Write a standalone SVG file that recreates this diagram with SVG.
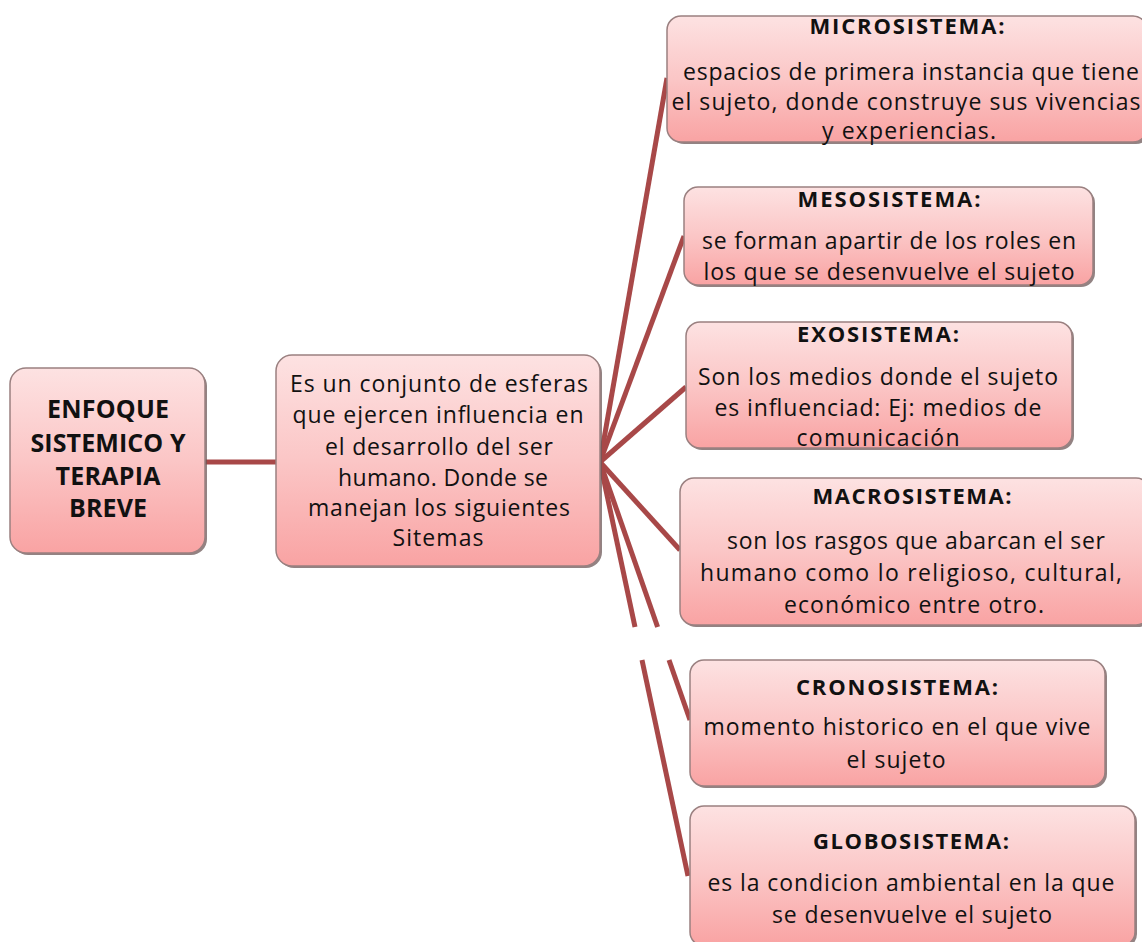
<svg xmlns="http://www.w3.org/2000/svg" width="1142" height="942" viewBox="0 0 1142 942">
<defs>
<linearGradient id="g" x1="0" y1="0" x2="0" y2="1">
<stop offset="0" stop-color="#fde2e2"/>
<stop offset="0.5" stop-color="#fbc6c6"/>
<stop offset="1" stop-color="#f9a3a3"/>
</linearGradient>
<style>
.box{fill:url(#g);stroke:#9a8080;stroke-width:1.5}
.sh{fill:#6e5a5a;opacity:0.75}
.t{font-family:"Open Sans","Liberation Sans",sans-serif;font-size:23px;fill:#111;text-anchor:middle}
.b{font-family:"Open Sans","Liberation Sans",sans-serif;font-size:22px;font-weight:bold;fill:#111;text-anchor:middle}
.lb{font-family:"Open Sans","Liberation Sans",sans-serif;font-size:25px;font-weight:bold;fill:#111;text-anchor:middle}
.c{stroke:#a84848;stroke-width:5;fill:none;stroke-linecap:butt}
</style>
</defs>
<rect width="1142" height="942" fill="#fff"/>
<g id="connectors">
<line class="c" x1="205" y1="462" x2="277" y2="462"/>
<line class="c" x1="600" y1="462" x2="667" y2="78"/>
<line class="c" x1="600" y1="462" x2="684" y2="236"/>
<line class="c" x1="600" y1="462" x2="686" y2="387"/>
<line class="c" x1="600" y1="462" x2="680" y2="550"/>
<line class="c" x1="600" y1="462" x2="657.6" y2="627"/>
<line class="c" x1="669" y1="660" x2="690" y2="720"/>
<line class="c" x1="600" y1="462" x2="635" y2="627"/>
<line class="c" x1="642" y1="660" x2="688" y2="876"/>
</g>
<g id="n-enfoque">
<rect class="sh" x="12" y="370" width="195" height="185" rx="16"/>
<rect class="box" x="10" y="368" width="195" height="185" rx="16"/>
<text class="lb" x="108" y="418" textLength="122">ENFOQUE</text>
<text class="lb" x="108" y="452" textLength="155">SISTEMICO Y</text>
<text class="lb" x="108" y="485" textLength="105">TERAPIA</text>
<text class="lb" x="108" y="517" textLength="78">BREVE</text>
</g>
<g id="n-conjunto">
<rect class="sh" x="278" y="357" width="324" height="211" rx="16"/>
<rect class="box" x="276" y="355" width="324" height="211" rx="16"/>
<text class="t" x="439" y="392" textLength="298">Es un conjunto de esferas</text>
<text class="t" x="438" y="423" textLength="291">que ejercen influencia en</text>
<text class="t" x="439" y="455" textLength="228">el desarrollo del ser</text>
<text class="t" x="443" y="486" textLength="210">humano. Donde se</text>
<text class="t" x="439" y="516" textLength="262">manejan los siguientes</text>
<text class="t" x="438" y="546" textLength="91">Sitemas</text>
</g>
<g id="n-micro">
<rect class="sh" x="670" y="18" width="480" height="126" rx="14"/>
<rect class="box" x="667" y="16" width="480" height="126" rx="14"/>
<text class="b" x="907" y="34" textLength="195">MICROSISTEMA:</text>
<text class="t" x="911" y="80" textLength="456">espacios de primera instancia que tiene</text>
<text class="t" x="906" y="110" textLength="469">el sujeto, donde construye sus vivencias</text>
<text class="t" x="909" y="139" textLength="174">y experiencias.</text>
</g>
<g id="n-meso">
<rect class="sh" x="686" y="189" width="409" height="98" rx="14"/>
<rect class="box" x="684" y="187" width="409" height="98" rx="14"/>
<text class="b" x="889" y="207" textLength="183">MESOSISTEMA:</text>
<text class="t" x="889" y="249" textLength="374">se forman apartir de los roles en</text>
<text class="t" x="889" y="280" textLength="371">los que se desenvuelve el sujeto</text>
</g>
<g id="n-exo">
<rect class="sh" x="688" y="324" width="386" height="126" rx="14"/>
<rect class="box" x="686" y="322" width="386" height="126" rx="14"/>
<text class="b" x="878" y="342" textLength="162">EXOSISTEMA:</text>
<text class="t" x="878" y="385" textLength="360">Son los medios donde el sujeto</text>
<text class="t" x="878" y="416" textLength="327">es influenciad: Ej: medios de</text>
<text class="t" x="878" y="446" textLength="163">comunicación</text>
</g>
<g id="n-macro">
<rect class="sh" x="682" y="480" width="470" height="147" rx="14"/>
<rect class="box" x="680" y="478" width="470" height="147" rx="14"/>
<text class="b" x="912" y="504" textLength="199">MACROSISTEMA:</text>
<text class="t" x="916" y="549" textLength="378">son los rasgos que abarcan el ser</text>
<text class="t" x="911" y="581" textLength="422">humano como lo religioso, cultural,</text>
<text class="t" x="914" y="613" textLength="260">económico entre otro.</text>
</g>
<g id="n-crono">
<rect class="sh" x="692" y="662" width="415" height="126" rx="14"/>
<rect class="box" x="690" y="660" width="415" height="126" rx="14"/>
<text class="b" x="897" y="695" textLength="202">CRONOSISTEMA:</text>
<text class="t" x="897" y="735" textLength="387">momento historico en el que vive</text>
<text class="t" x="896" y="768" textLength="99">el sujeto</text>
</g>
<g id="n-globo">
<rect class="sh" x="692" y="808" width="445" height="140" rx="14"/>
<rect class="box" x="690" y="806" width="445" height="140" rx="14"/>
<text class="b" x="911" y="849" textLength="196">GLOBOSISTEMA:</text>
<text class="t" x="911" y="891" textLength="407">es la condicion ambiental en la que</text>
<text class="t" x="912" y="923" textLength="280">se desenvuelve el sujeto</text>
</g>
</svg>
